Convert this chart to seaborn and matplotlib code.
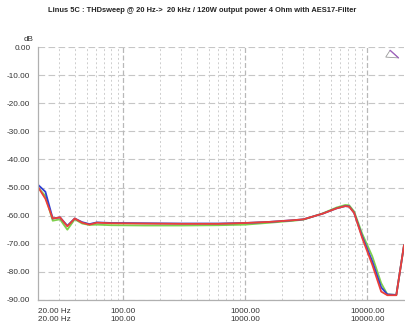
import numpy as np
import pandas as pd
import seaborn as sns
import matplotlib.pyplot as plt
from matplotlib.ticker import FixedLocator, NullFormatter
from matplotlib.patches import Polygon

# Sweep frequencies (Hz)
freq = [20, 23, 26.4, 30.3, 34.8, 40, 46, 52.8, 60.6, 80, 150, 300, 600, 1000,
        1600, 2500, 3000, 4300, 5600, 6600, 7100, 7800, 9100, 11000, 13000,
        14600, 17300, 20000]

# THD level per channel (dB)
thd_blue = [-49.0, -51.5, -61.0, -60.6, -63.6, -61.0, -62.3, -63.0, -62.4, -62.6,
            -62.7, -62.8, -62.8, -62.6, -62.2, -61.6, -61.3, -59.3, -57.4, -56.6,
            -56.7, -59.0, -67.5, -76.3, -85.5, -88.0, -88.2, -70.5]
thd_green = [-50.0, -53.0, -61.8, -61.3, -65.0, -61.3, -62.8, -63.3, -63.2, -63.4,
             -63.5, -63.5, -63.4, -63.2, -62.5, -61.8, -61.4, -59.2, -57.1, -56.2,
             -56.3, -58.5, -66.5, -74.5, -84.0, -88.0, -88.2, -70.5]
thd_red = [-49.8, -54.0, -61.0, -60.6, -63.8, -61.0, -62.5, -63.2, -62.5, -62.7,
           -62.8, -62.9, -62.9, -62.6, -62.2, -61.6, -61.3, -59.3, -57.4, -56.6,
           -56.8, -59.0, -68.0, -77.5, -87.0, -88.3, -88.3, -70.5]

channels = ["Green", "Blue", "Red"]
colors = {"Green": "#7ed04c", "Blue": "#2f3fd2", "Red": "#ec4038"}

xticks = [20, 100, 1000, 10000]
xtick_labels = ["20.00 Hz\n20.00 Hz", "100.00\n100.00", "1000.00\n1000.00", "10000.00\n10000.00"]
yticks = [0, -10, -20, -30, -40, -50, -60, -70, -80, -90]
ytick_labels = ["0.00", "-10.00", "-20.00", "-30.00", "-40.00", "-50.00",
                "-60.00", "-70.00", "-80.00", "-90.00"]

df = pd.concat([
    pd.DataFrame({"freq": freq, "thd": thd_green, "ch": "Green"}),
    pd.DataFrame({"freq": freq, "thd": thd_blue, "ch": "Blue"}),
    pd.DataFrame({"freq": freq, "thd": thd_red, "ch": "Red"}),
])

sns.set_theme(style="white")
plt.rcParams["font.family"] = ["Liberation Sans", "DejaVu Sans"]

fig = plt.figure(figsize=(4.05, 3.26), dpi=100)
ax = fig.add_axes([38 / 405, 1 - 300 / 326, 366 / 405, 253 / 326])

sns.lineplot(data=df, x="freq", y="thd", hue="ch", hue_order=channels,
             palette=colors, linewidth=1.3, legend=False, ax=ax, sort=False,
             estimator=None)

ax.set_xscale("log")
ax.set_xlim(20, 20000)
ax.set_ylim(-90, 0)

# grid: dashed horizontal, dashed decades, short-dashed in-between
for y in yticks:
    ax.axhline(y, color="#c6c6c6", lw=0.8, dashes=(6, 3), zorder=0)
minor = [m * d for d in (10, 100, 1000) for m in range(2, 10) if m * d > 20]
for x in minor:
    ax.axvline(x, color="#cdcdcd", lw=0.7, dashes=(2, 2.5), zorder=0)
for x in [100, 1000, 10000]:
    ax.axvline(x, color="#b8b8b8", lw=0.9, dashes=(4, 2), zorder=0)

ax.xaxis.set_major_locator(FixedLocator(xticks))
ax.xaxis.set_minor_locator(FixedLocator(minor))
ax.xaxis.set_minor_formatter(NullFormatter())
ax.set_xticklabels(xtick_labels)
ax.set_yticks(yticks)
ax.set_yticklabels(ytick_labels)
ax.tick_params(axis="both", which="major", labelsize=5.9, labelcolor="#333333",
               color="#a8a8a8", length=4, width=0.8, pad=1.5)
ax.tick_params(axis="x", which="minor", length=2, color="#b8b8b8", width=0.6)
ax.tick_params(axis="x", which="major", length=3, pad=2.5)
lbls = ax.get_xticklabels()
lbls[0].set_ha("left")
for t in lbls:
    t.set_linespacing(1.25)

ax.set_xlabel("")
ax.set_ylabel("")
for s in ("top", "right"):
    ax.spines[s].set_visible(False)
for s in ("left", "bottom"):
    ax.spines[s].set_color("#b0b0b0")
    ax.spines[s].set_linewidth(0.9)

ax.text(-0.012, 1.015, "dB", transform=ax.transAxes, ha="right", va="bottom",
        fontsize=5.9, color="#333333")

# cursor marker at top right
ax.add_patch(Polygon([[0.962, 0.987], [0.950, 0.960], [0.985, 0.957]], closed=True,
                     transform=ax.transAxes, fill=False, edgecolor="#9a9a9a", lw=0.6,
                     clip_on=False))
ax.plot([0.962, 0.985], [0.987, 0.957], transform=ax.transAxes, color="#a060c0",
        lw=0.9, clip_on=False)

fig.text(0.5, 1 - 10 / 326, "Linus 5C : THDsweep @ 20 Hz->  20 kHz / 120W output power 4 Ohm with AES17-Filter",
         ha="center", va="center", fontsize=5.4, fontweight="bold", color="#222222")

fig.savefig("out.png", dpi=100)
